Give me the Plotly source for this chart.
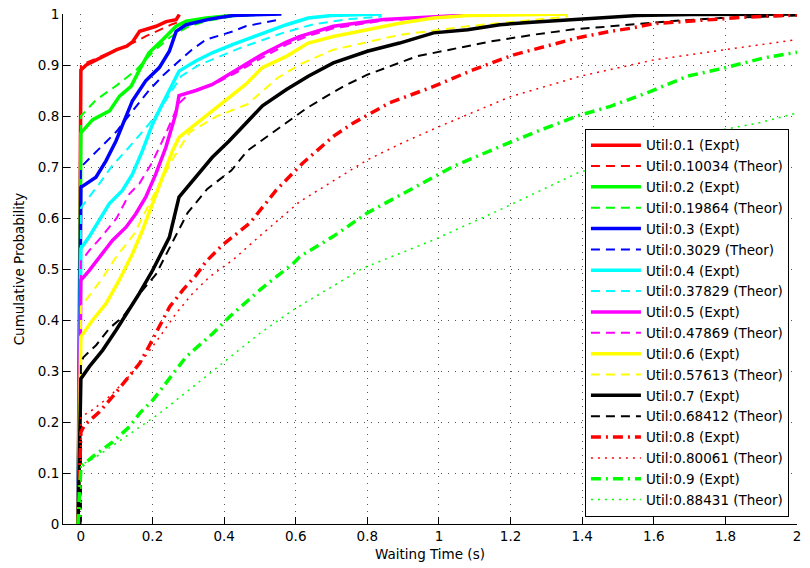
import plotly.graph_objects as go

# ---------------- data ----------------
names = [
    "Util:0.1 (Expt)", "Util:0.10034 (Theor)",
    "Util:0.2 (Expt)", "Util:0.19864 (Theor)",
    "Util:0.3 (Expt)", "Util:0.3029 (Theor)",
    "Util:0.4 (Expt)", "Util:0.37829 (Theor)",
    "Util:0.5 (Expt)", "Util:0.47869 (Theor)",
    "Util:0.6 (Expt)", "Util:0.57613 (Theor)",
    "Util:0.7 (Expt)", "Util:0.68412 (Theor)",
    "Util:0.8 (Expt)", "Util:0.80061 (Theor)",
    "Util:0.9 (Expt)", "Util:0.88431 (Theor)",
]

x_u01_expt = [-0.008, 0, 0.015, 0.053, 0.1, 0.128, 0.145, 0.164, 0.21, 0.238, 0.266, 0.275]
y_u01_expt = [0, 0.89, 0.90, 0.914, 0.93, 0.937, 0.946, 0.966, 0.976, 0.985, 0.989, 0.999]
x_u01_theo = [0, 0, 0.05, 0.1, 0.15, 0.183, 0.23, 0.255, 0.28]
y_u01_theo = [0, 0.90, 0.915, 0.93, 0.945, 0.957, 0.972, 0.98, 0.986]

x_u02_expt = [-0.008, 0, 0.033, 0.08, 0.108, 0.14, 0.164, 0.19, 0.229, 0.266, 0.294, 0.35, 0.42, 0.5]
y_u02_expt = [0, 0.767, 0.793, 0.81, 0.839, 0.858, 0.891, 0.924, 0.95, 0.976, 0.986, 0.992, 0.997, 1.0]
x_u02_theo = [0, 0, 0.043, 0.1, 0.154, 0.2, 0.25, 0.3, 0.35, 0.42, 0.5]
y_u02_theo = [0, 0.80, 0.832, 0.86, 0.89, 0.925, 0.955, 0.975, 0.986, 0.995, 0.999]

x_u03_expt = [-0.008, 0, 0.042, 0.07, 0.098, 0.121, 0.144, 0.181, 0.219, 0.247, 0.266, 0.294, 0.36, 0.424, 0.56]
y_u03_expt = [0, 0.66, 0.68, 0.712, 0.751, 0.79, 0.83, 0.869, 0.895, 0.927, 0.966, 0.979, 0.99, 0.997, 1.0]
x_u03_theo = [0, 0, 0.05, 0.1, 0.15, 0.19, 0.23, 0.31, 0.35, 0.425, 0.46, 0.52, 0.56]
y_u03_theo = [0, 0.70, 0.735, 0.77, 0.815, 0.85, 0.88, 0.93, 0.95, 0.966, 0.976, 0.984, 0.99]

x_u04_expt = [-0.008, 0, 0.023, 0.051, 0.079, 0.116, 0.144, 0.172, 0.2, 0.223, 0.247, 0.274, 0.321, 0.367, 0.423, 0.5, 0.574, 0.635, 0.7, 0.84]
y_u04_expt = [0, 0.54, 0.563, 0.595, 0.628, 0.654, 0.686, 0.732, 0.784, 0.817, 0.849, 0.888, 0.908, 0.924, 0.94, 0.96, 0.979, 0.992, 0.997, 1.0]
x_u04_theo = [0, 0, 0.051, 0.088, 0.126, 0.158, 0.19, 0.22, 0.25, 0.28, 0.33, 0.38, 0.44, 0.5, 0.56, 0.65, 0.75, 0.84]
y_u04_theo = [0, 0.62, 0.667, 0.703, 0.732, 0.758, 0.784, 0.812, 0.845, 0.878, 0.9, 0.915, 0.932, 0.947, 0.962, 0.98, 0.99, 0.995]

x_u05_expt = [-0.008, 0, 0.023, 0.051, 0.088, 0.126, 0.153, 0.181, 0.209, 0.237, 0.265, 0.274, 0.321, 0.367, 0.414, 0.46, 0.507, 0.574, 0.612, 0.705, 0.845, 1.08, 1.2]
y_u05_expt = [0, 0.478, 0.497, 0.523, 0.556, 0.582, 0.608, 0.641, 0.686, 0.738, 0.804, 0.84, 0.85, 0.862, 0.882, 0.901, 0.921, 0.945, 0.956, 0.976, 0.989, 0.998, 1.0]
x_u05_theo = [0, 0, 0.023, 0.06, 0.1, 0.135, 0.163, 0.2, 0.24, 0.274, 0.31, 0.37, 0.434, 0.5, 0.574, 0.64, 0.705, 0.845, 1.08, 1.2]
y_u05_theo = [0, 0.515, 0.536, 0.565, 0.6, 0.647, 0.667, 0.71, 0.77, 0.825, 0.848, 0.862, 0.885, 0.912, 0.94, 0.958, 0.972, 0.987, 0.997, 0.999]

x_u06_expt = [-0.008, 0, 0.033, 0.07, 0.107, 0.144, 0.172, 0.2, 0.228, 0.256, 0.274, 0.321, 0.367, 0.414, 0.46, 0.507, 0.574, 0.635, 0.705, 0.8, 0.89, 0.985, 1.08, 1.36]
y_u06_expt = [0, 0.367, 0.4, 0.432, 0.478, 0.53, 0.576, 0.628, 0.68, 0.732, 0.758, 0.784, 0.81, 0.836, 0.862, 0.895, 0.917, 0.943, 0.956, 0.969, 0.982, 0.992, 0.997, 1.0]
x_u06_theo = [0, 0, 0.056, 0.098, 0.149, 0.214, 0.26, 0.305, 0.381, 0.465, 0.55, 0.617, 0.705, 0.89, 1.08, 1.26, 1.36]
y_u06_theo = [0, 0.426, 0.478, 0.523, 0.569, 0.66, 0.72, 0.769, 0.8, 0.823, 0.875, 0.903, 0.93, 0.959, 0.976, 0.989, 0.995]

x_u07_expt = [-0.008, 0, 0.024, 0.061, 0.099, 0.116, 0.163, 0.2, 0.247, 0.274, 0.321, 0.367, 0.414, 0.46, 0.507, 0.574, 0.635, 0.705, 0.8, 0.89, 0.985, 1.08, 1.17, 1.26, 1.386, 1.554, 1.7, 2.0]
y_u07_expt = [0, 0.285, 0.309, 0.341, 0.381, 0.4, 0.452, 0.497, 0.562, 0.641, 0.68, 0.719, 0.751, 0.784, 0.82, 0.852, 0.878, 0.904, 0.927, 0.943, 0.963, 0.969, 0.979, 0.984, 0.989, 0.997, 0.999, 1.0]
x_u07_theo = [0, 0, 0.007, 0.043, 0.08, 0.117, 0.168, 0.21, 0.256, 0.298, 0.353, 0.42, 0.465, 0.55, 0.63, 0.677, 0.733, 0.8, 0.863, 0.938, 1.03, 1.143, 1.26, 1.376, 1.45, 1.535, 1.647, 1.787, 2.0]
y_u07_theo = [0, 0.315, 0.327, 0.351, 0.384, 0.406, 0.455, 0.49, 0.553, 0.61, 0.657, 0.693, 0.732, 0.775, 0.815, 0.835, 0.858, 0.881, 0.897, 0.917, 0.93, 0.946, 0.959, 0.97, 0.974, 0.979, 0.986, 0.992, 0.997]

x_u08_expt = [-0.008, 0, 0.01, 0.052, 0.089, 0.126, 0.164, 0.192, 0.248, 0.285, 0.322, 0.35, 0.397, 0.472, 0.546, 0.62, 0.705, 0.76, 0.863, 0.985, 1.097, 1.209, 1.32, 1.386, 1.479, 1.535, 1.6, 1.666, 1.74, 1.796, 1.86, 2.0]
y_u08_expt = [0, 0.18, 0.194, 0.22, 0.25, 0.283, 0.315, 0.351, 0.426, 0.459, 0.488, 0.515, 0.548, 0.59, 0.655, 0.708, 0.76, 0.786, 0.826, 0.858, 0.891, 0.92, 0.94, 0.953, 0.966, 0.972, 0.981, 0.984, 0.988, 0.991, 0.994, 0.998]
x_u08_theo = [0, 0, 0.033, 0.08, 0.126, 0.173, 0.22, 0.266, 0.313, 0.36, 0.425, 0.5, 0.611, 0.7, 0.8, 0.9, 1.003, 1.2, 1.395, 1.6, 1.796, 2.0]
y_u08_theo = [0, 0.21, 0.224, 0.25, 0.283, 0.322, 0.367, 0.413, 0.453, 0.485, 0.518, 0.565, 0.632, 0.67, 0.714, 0.748, 0.78, 0.838, 0.878, 0.91, 0.93, 0.95]

x_u09_expt = [-0.008, 0, 0.033, 0.089, 0.136, 0.164, 0.201, 0.238, 0.294, 0.369, 0.416, 0.5, 0.546, 0.593, 0.611, 0.705, 0.8, 0.938, 1.04, 1.17, 1.264, 1.386, 1.479, 1.59, 1.694, 1.796, 1.908, 2.0]
y_u09_expt = [0, 0.112, 0.132, 0.161, 0.191, 0.217, 0.243, 0.276, 0.328, 0.374, 0.407, 0.459, 0.485, 0.511, 0.524, 0.564, 0.61, 0.662, 0.701, 0.74, 0.767, 0.80, 0.819, 0.848, 0.878, 0.894, 0.914, 0.925]
x_u09_theo = [0, 0, 0.05, 0.126, 0.22, 0.313, 0.406, 0.5, 0.593, 0.705, 0.789, 0.985, 1.17, 1.386, 1.6, 1.768, 1.89, 2.0]
y_u09_theo = [0, 0.115, 0.135, 0.171, 0.217, 0.269, 0.322, 0.374, 0.42, 0.466, 0.502, 0.557, 0.616, 0.688, 0.735, 0.77, 0.786, 0.806]

x_ticks = [0, 0.2, 0.4, 0.6, 0.8, 1, 1.2, 1.4, 1.6, 1.8, 2]
x_tick_labels = ["0", "0.2", "0.4", "0.6", "0.8", "1", "1.2", "1.4", "1.6", "1.8", "2"]
y_ticks = [0, 0.1, 0.2, 0.3, 0.4, 0.5, 0.6, 0.7, 0.8, 0.9, 1]
y_tick_labels = ["0", "0.1", "0.2", "0.3", "0.4", "0.5", "0.6", "0.7", "0.8", "0.9", "1"]

series_x = [x_u01_expt, x_u01_theo, x_u02_expt, x_u02_theo, x_u03_expt, x_u03_theo,
            x_u04_expt, x_u04_theo, x_u05_expt, x_u05_theo, x_u06_expt, x_u06_theo,
            x_u07_expt, x_u07_theo, x_u08_expt, x_u08_theo, x_u09_expt, x_u09_theo]
series_y = [y_u01_expt, y_u01_theo, y_u02_expt, y_u02_theo, y_u03_expt, y_u03_theo,
            y_u04_expt, y_u04_theo, y_u05_expt, y_u05_theo, y_u06_expt, y_u06_theo,
            y_u07_expt, y_u07_theo, y_u08_expt, y_u08_theo, y_u09_expt, y_u09_theo]

# ---------------- styles ----------------
colors = ["#FF0000", "#00FF00", "#0000FF", "#00FFFF", "#FF00FF", "#FFFF00", "#000000", "#FF0000", "#00FF00"]
FONT = "DejaVu Sans"

def style(i):
    pair = i // 2
    expt = (i % 2 == 0)
    if pair < 7:
        if expt:
            return dict(width=3.5, dash="solid")
        return dict(width=2, dash="9px,6px")
    if expt:
        return dict(width=3.5, dash="10px,5px,2px,5px")
    return dict(width=1.5, dash="2px,5px")

fig = go.Figure()
for i, (nm, xs, ys) in enumerate(zip(names, series_x, series_y)):
    st = style(i)
    fig.add_trace(go.Scatter(
        x=xs, y=ys, mode="lines", name=nm, legendgroup=nm,
        line=dict(color=colors[i // 2], width=st["width"], dash=st["dash"]),
    ))

fig.update_layout(
    width=810, height=568,
    margin=dict(l=63, r=13, t=14, b=44, autoexpand=False),
    paper_bgcolor="white", plot_bgcolor="white",
    font=dict(family=FONT, size=13.5, color="black"),
    showlegend=True,
    legend=dict(
        x=0.989, y=0.014, xanchor="right", yanchor="bottom",
        bgcolor="white", bordercolor="black", borderwidth=1,
        font=dict(family=FONT, size=13.5, color="black"),
        tracegroupgap=0.3, itemwidth=50,
    ),
)
fig.update_xaxes(
    range=[-0.05, 2], tickvals=x_ticks, ticktext=x_tick_labels,
    showline=True, linecolor="black", linewidth=1, mirror=False,
    ticks="inside", ticklen=7, tickcolor="black",
    showgrid=True, gridcolor="#555555", gridwidth=1, griddash="1px,6px",
    zeroline=False, automargin=False,
    title=dict(text="Waiting Time (s)", standoff=6, font=dict(family=FONT, size=13.5)),
)
fig.update_yaxes(
    range=[0, 1], tickvals=y_ticks, ticktext=y_tick_labels,
    showline=True, linecolor="black", linewidth=1, mirror=False,
    ticks="inside", ticklen=7, tickcolor="black",
    showgrid=True, gridcolor="#555555", gridwidth=1, griddash="1px,6px",
    zeroline=False, automargin=False,
    title=dict(text="Cumulative Probability", standoff=10, font=dict(family=FONT, size=13.5)),
)

fig.write_html(
    "out.html",
    config={"displayModeBar": False},
    post_script="document.body.style.margin='0';document.body.style.overflow='hidden';",
)
